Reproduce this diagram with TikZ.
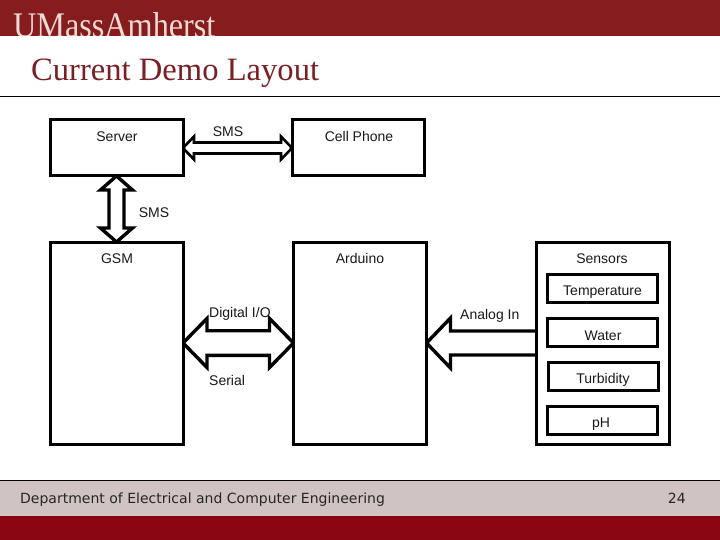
\documentclass[tikz,border=0pt]{standalone}
\usepackage{fontspec}
\setmainfont{Liberation Sans}
\newfontfamily\serifface{Liberation Serif}
\newfontfamily\footface{DejaVu Sans}
\usetikzlibrary{calc,backgrounds}
\definecolor{bandred}{HTML}{861C1E}
\definecolor{titlered}{HTML}{7A2024}
\definecolor{footgray}{HTML}{CFC4C3}
\definecolor{footred}{HTML}{8A0612}
\definecolor{logotint}{HTML}{EFD9D3}
\tikzset{
  box/.style={draw=black,line width=#1,fill=white,inner sep=0pt,outer sep=0pt},
  box/.default=3pt,
  lbl/.style={font=\fontsize{14}{16}\selectfont,inner sep=0pt,text=black!90},
  blockline/.style={draw=black,fill=white,line join=miter,miter limit=3},
  twoway/.style n args={3}{to path={
    let \p1=(\tikztostart), \p2=(\tikztotarget) in
    (\p1) -- ($(\p1)!#1pt!(\p2)!#2pt!90:(\p2)$) -- ($(\p1)!#1pt!(\p2)!#3pt!90:(\p2)$)
    -- ($(\p2)!#1pt!(\p1)!#3pt!-90:(\p1)$) -- ($(\p2)!#1pt!(\p1)!#2pt!-90:(\p1)$)
    -- (\p2) -- ($(\p2)!#1pt!(\p1)!#2pt!90:(\p1)$) -- ($(\p2)!#1pt!(\p1)!#3pt!90:(\p1)$)
    -- ($(\p1)!#1pt!(\p2)!#3pt!-90:(\p2)$) -- ($(\p1)!#1pt!(\p2)!#2pt!-90:(\p2)$) -- cycle}},
  oneway/.style n args={3}{to path={
    let \p1=(\tikztostart), \p2=(\tikztotarget) in
    ($(\p1)!#3pt!90:(\p2)$) -- ($(\p2)!#1pt!(\p1)!#3pt!-90:(\p1)$) -- ($(\p2)!#1pt!(\p1)!#2pt!-90:(\p1)$)
    -- (\p2) -- ($(\p2)!#1pt!(\p1)!#2pt!90:(\p1)$) -- ($(\p2)!#1pt!(\p1)!#3pt!90:(\p1)$)
    -- ($(\p1)!#3pt!-90:(\p2)$)}}
}
\begin{document}
\begin{tikzpicture}[x=1pt,y=-1pt]
\useasboundingbox (0,0) rectangle (720,540);
\begin{scope}[on background layer]
\fill[white] (0,0) rectangle (720,540);
\end{scope}
% header
\fill[bandred] (0,0) rectangle (720,36);
\begin{scope}
\clip (0,0) rectangle (720,36);
\node[anchor=base west,inner sep=0pt,text=logotint,xscale=.895] (logo) at (13,38) {\fontsize{36}{37}\selectfont\serifface UMassAmherst};
\end{scope}
\node[anchor=base west,inner sep=0pt,text=titlered] (title) at (31,81) {\fontsize{32.6}{34}\selectfont\serifface Current Demo Layout};
\draw[black,line width=1pt] (0,96.5) -- (720,96.5);
% footer
\fill[footgray] (0,480) rectangle (720,516);
\fill[footred] (0,516) rectangle (720,540);
\draw[black,line width=1pt] (0,480.5) -- (720,480.5);
\node[anchor=base west,inner sep=0pt,text=black!85] (dept) at (20,503) {\fontsize{14}{16}\selectfont\footface Department of Electrical and Computer Engineering};
\node[anchor=base east,inner sep=0pt,text=black!85] (page) at (686,503) {\fontsize{14}{16}\selectfont\footface 24};
% main boxes
\node[box,minimum width=133pt,minimum height=56pt] (server) at (116.5,148) {};
\node[box,minimum width=132pt,minimum height=56pt] (phone) at (358,148) {};
\node[box,minimum width=133pt,minimum height=202pt] (gsm) at (116.5,343) {};
\node[box,minimum width=133pt,minimum height=202pt] (arduino) at (360,343) {};
\node[box,minimum width=133pt,minimum height=202pt] (sensors) at (602.5,343) {};
\node[box,minimum width=110pt,minimum height=28pt] (temp) at (602,288) {};
\node[box,minimum width=110pt,minimum height=28pt] (water) at (602,332.5) {};
\node[box,minimum width=110pt,minimum height=28pt] (turb) at (603,376) {};
\node[box,minimum width=110pt,minimum height=28pt] (ph) at (602,420.5) {};
% block arrows
\begin{scope}[on background layer]
\path[blockline,line width=2.6pt] (server.east) to[twoway={11}{11.5}{5.5}] (phone.west);
\path[blockline,line width=3.4pt] (server.south) to[twoway={14}{16}{7.5}] (gsm.north);
\path[blockline,line width=3.4pt] (gsm.east) to[twoway={24}{24.5}{12.3}] (arduino.west);
\path[blockline,line width=3.4pt] (sensors.west) to[oneway={24}{25}{12}] (arduino.east);
\end{scope}
% labels
\node[lbl] (tserver) at (117,137) {Server};
\node[lbl] (tsms1) at (228,132) {SMS};
\node[lbl] (tphone) at (359,136) {Cell Phone};
\node[lbl] (tsms2) at (154,213) {SMS};
\node[lbl] (tgsm) at (117,259) {GSM};
\node[lbl] (tard) at (360,258) {Arduino};
\node[lbl] (tsens) at (602,259) {Sensors};
\node[lbl] (ttemp) at (602.5,292) {Temperature};
\node[lbl] (twat) at (603,335.5) {Water};
\node[lbl] (ttur) at (603,380) {Turbidity};
\node[lbl] (tph) at (601,424.5) {pH};
\node[lbl,anchor=west] (tdig) at (209,314) {Digital I/O};
\node[lbl,anchor=west] (tser) at (209,380) {Serial};
\node[lbl,anchor=west] (tana) at (460,316) {Analog In};
\end{tikzpicture}
\end{document}
